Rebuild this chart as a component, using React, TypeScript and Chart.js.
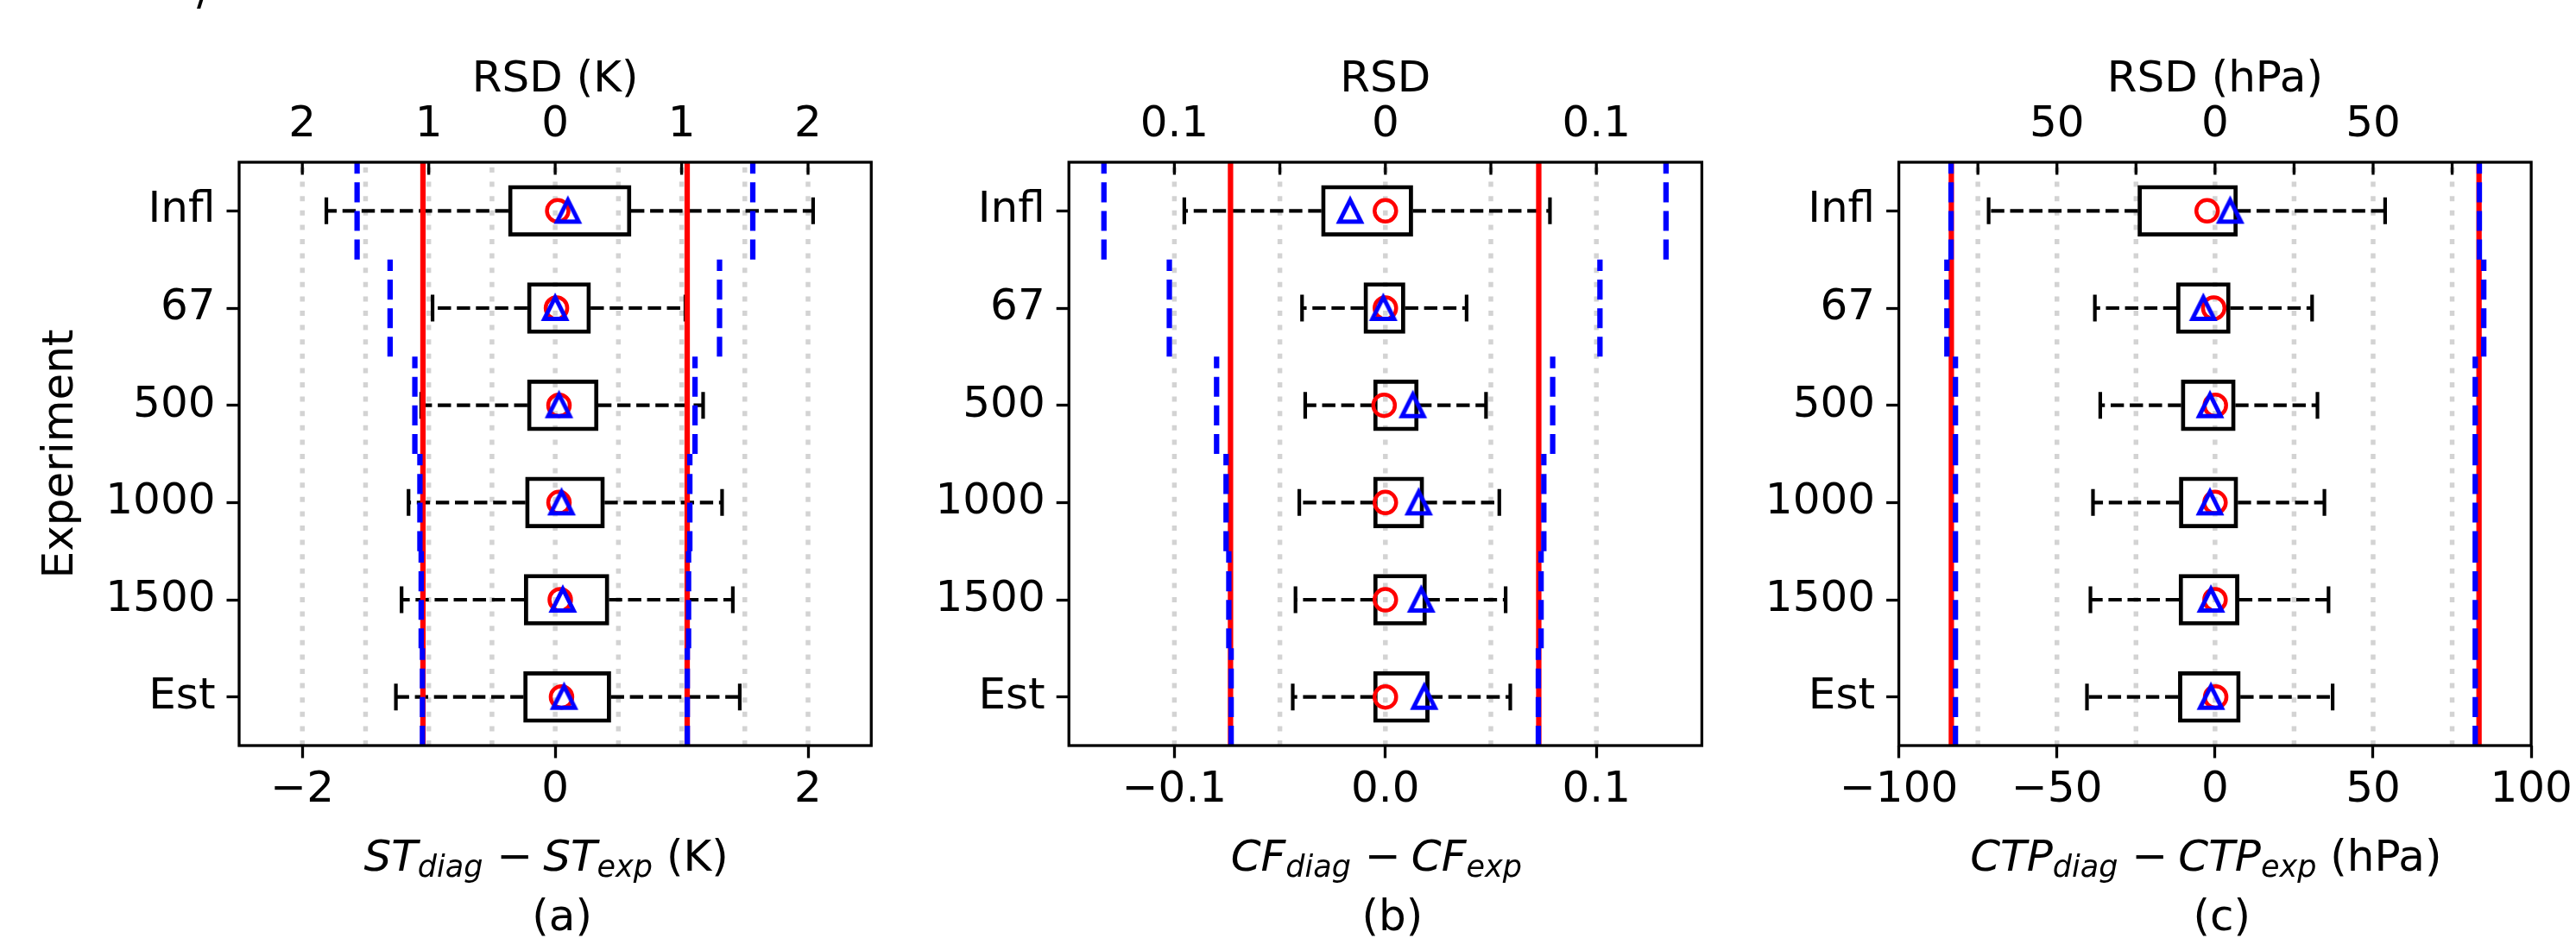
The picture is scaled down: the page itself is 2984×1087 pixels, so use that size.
import React, { useEffect, useRef } from 'react';
import { Chart, registerables } from 'chart.js';

Chart.register(...registerables);

const FONT = '"DejaVu Sans", "Liberation Sans", sans-serif';
Chart.defaults.font.family = FONT;
Chart.defaults.font.size = 50;
Chart.defaults.color = '#000';

// ---------- categories ----------
const EXPERIMENTS = ['Infl', '67', '500', '1000', '1500', 'Est'];

// ---------- (a) ST_diag - ST_exp (K) ----------
const ST_WHISKER_LOW = [-1.81, -0.97, -1.06, -1.16, -1.215, -1.26];
const ST_Q1 = [-0.37, -0.22, -0.22, -0.235, -0.245, -0.25];
const ST_Q3 = [0.6, 0.28, 0.34, 0.39, 0.425, 0.44];
const ST_WHISKER_HIGH = [2.04, 1.03, 1.17, 1.32, 1.405, 1.46];
const ST_CIRCLE = [0.02, 0.01, 0.03, 0.03, 0.04, 0.05];
const ST_TRIANGLE = [0.1, 0.0, 0.03, 0.05, 0.06, 0.07];
const ST_BLUE_LOW = [-1.567, -1.306, -1.11, -1.07, -1.06, -1.05];
const ST_BLUE_HIGH = [1.563, 1.3, 1.106, 1.065, 1.055, 1.045];
const ST_RED = [-1.046, 1.044];
const ST_RANGE = [-2.5, 2.5];
const ST_BOTTOM_TICKS = [-2, 0, 2];
const ST_BOTTOM_LABELS = ['\u22122', '0', '2'];
const ST_TOP_TICKS = [-2, -1, 0, 1, 2];
const ST_TOP_LABELS = ['2', '1', '0', '1', '2'];
const ST_GRID = [-2, -1.5, -1, -0.5, 0, 0.5, 1, 1.5, 2];

// ---------- (b) CF_diag - CF_exp ----------
const CF_WHISKER_LOW = [-0.0953, -0.0395, -0.038, -0.0408, -0.0426, -0.0439];
const CF_Q1 = [-0.0303, -0.0102, -0.0056, -0.0056, -0.0056, -0.0056];
const CF_Q3 = [0.013, 0.0093, 0.0156, 0.0182, 0.0195, 0.0208];
const CF_WHISKER_HIGH = [0.078, 0.0385, 0.0477, 0.054, 0.057, 0.0592];
const CF_CIRCLE = [0.0, 0.0, -0.0006, 0.0, 0.0, 0.0];
const CF_TRIANGLE = [-0.0167, -0.001, 0.013, 0.0158, 0.017, 0.0184];
const CF_BLUE_LOW = [-0.1334, -0.1024, -0.08, -0.0755, -0.0742, -0.0731];
const CF_BLUE_HIGH = [0.133, 0.1017, 0.0793, 0.0751, 0.0738, 0.0725];
const CF_RED = [-0.0734, 0.0727];
const CF_RANGE = [-0.15, 0.15];
const CF_BOTTOM_TICKS = [-0.1, 0, 0.1];
const CF_BOTTOM_LABELS = ['\u22120.1', '0.0', '0.1'];
const CF_TOP_TICKS = [-0.1, -0.05, 0, 0.05, 0.1];
const CF_TOP_LABELS = ['0.1', '', '0', '', '0.1'];
const CF_GRID = [-0.1, -0.05, 0, 0.05, 0.1];

// ---------- (c) CTP_diag - CTP_exp (hPa) ----------
const CTP_WHISKER_LOW = [-71.6, -38.0, -36.3, -38.6, -39.4, -40.5];
const CTP_Q1 = [-24.4, -12.2, -10.7, -11.3, -11.4, -11.6];
const CTP_Q3 = [7.1, 4.8, 6.4, 7.2, 7.6, 8.0];
const CTP_WHISKER_HIGH = [53.8, 30.7, 32.4, 34.6, 35.9, 37.2];
const CTP_CIRCLE = [-2.5, -0.4, 0.1, 0.0, 0.0, 0.2];
const CTP_TRIANGLE = [4.8, -3.7, -1.6, -1.6, -1.3, -1.3];
const CTP_BLUE_LOW = [-83.5, -84.8, -82.1, -82.1, -82.1, -82.1];
const CTP_BLUE_HIGH = [83.6, 85.0, 82.3, 82.3, 82.3, 82.3];
const CTP_RED = [-83.4, 83.5];
const CTP_RANGE = [-100, 100];
const CTP_BOTTOM_TICKS = [-100, -50, 0, 50, 100];
const CTP_BOTTOM_LABELS = ['\u2212100', '\u221250', '0', '50', '100'];
const CTP_TOP_TICKS = [-75, -50, -25, 0, 25, 50, 75];
const CTP_TOP_LABELS = ['', '50', '', '0', '', '50', ''];
const CTP_GRID = [-75, -50, -25, 0, 25, 50, 75];

type Panel = {
  key: string;
  canvasLeft: number;
  canvasWidth: number;
  plotLeft: number;
  plotRight: number;
  range: number[];
  wl: number[];
  q1: number[];
  q3: number[];
  wh: number[];
  circle: number[];
  triangle: number[];
  blueLow: number[];
  blueHigh: number[];
  red: number[];
  bottomTicks: number[];
  bottomLabels: string[];
  topTicks: number[];
  topLabels: string[];
  grid: number[];
  topTitle: string;
  varName: string;
  unit: string;
  tag: string;
  yTitle: string;
};

const PANELS: Panel[] = [
  {
    key: 'a', canvasLeft: 0, canvasWidth: 1060, plotLeft: 277, plotRight: 1009.25, range: ST_RANGE,
    wl: ST_WHISKER_LOW, q1: ST_Q1, q3: ST_Q3, wh: ST_WHISKER_HIGH, circle: ST_CIRCLE, triangle: ST_TRIANGLE,
    blueLow: ST_BLUE_LOW, blueHigh: ST_BLUE_HIGH, red: ST_RED,
    bottomTicks: ST_BOTTOM_TICKS, bottomLabels: ST_BOTTOM_LABELS, topTicks: ST_TOP_TICKS, topLabels: ST_TOP_LABELS,
    grid: ST_GRID, topTitle: 'RSD (K)', varName: 'ST', unit: '(K)', tag: '(a)', yTitle: 'Experiment',
  },
  {
    key: 'b', canvasLeft: 1060, canvasWidth: 960, plotLeft: 178.2, plotRight: 911.4, range: CF_RANGE,
    wl: CF_WHISKER_LOW, q1: CF_Q1, q3: CF_Q3, wh: CF_WHISKER_HIGH, circle: CF_CIRCLE, triangle: CF_TRIANGLE,
    blueLow: CF_BLUE_LOW, blueHigh: CF_BLUE_HIGH, red: CF_RED,
    bottomTicks: CF_BOTTOM_TICKS, bottomLabels: CF_BOTTOM_LABELS, topTicks: CF_TOP_TICKS, topLabels: CF_TOP_LABELS,
    grid: CF_GRID, topTitle: 'RSD', varName: 'CF', unit: '', tag: '(b)', yTitle: '',
  },
  {
    key: 'c', canvasLeft: 2020, canvasWidth: 964, plotLeft: 179.6, plotRight: 912.1, range: CTP_RANGE,
    wl: CTP_WHISKER_LOW, q1: CTP_Q1, q3: CTP_Q3, wh: CTP_WHISKER_HIGH, circle: CTP_CIRCLE, triangle: CTP_TRIANGLE,
    blueLow: CTP_BLUE_LOW, blueHigh: CTP_BLUE_HIGH, red: CTP_RED,
    bottomTicks: CTP_BOTTOM_TICKS, bottomLabels: CTP_BOTTOM_LABELS, topTicks: CTP_TOP_TICKS, topLabels: CTP_TOP_LABELS,
    grid: CTP_GRID, topTitle: 'RSD (hPa)', varName: 'CTP', unit: '(hPa)', tag: '(c)', yTitle: '',
  },
];

const H = 1087;
const PLOT_TOP = 188;
const PLOT_BOTTOM = 864;
const TICK_LEN = 14.5;
const SPINE_W = 3.3;

function makeTriangle(): HTMLCanvasElement {
  const c = document.createElement('canvas');
  c.width = 50;
  c.height = 50;
  const g = c.getContext('2d')!;
  const s = 25;
  g.strokeStyle = '#0000ff';
  g.lineWidth = 5;
  g.lineJoin = 'miter';
  g.beginPath();
  g.moveTo(25, 25 - s / 2);
  g.lineTo(25 - s / 2, 25 + s / 2);
  g.lineTo(25 + s / 2, 25 + s / 2);
  g.closePath();
  g.stroke();
  return c;
}

function decoPlugin(p: Panel) {
  return {
    id: 'deco_' + p.key,
    beforeDatasetsDraw(chart: any) {
      const { ctx, chartArea: a } = chart;
      const x = chart.scales.x;
      ctx.save();
      ctx.beginPath();
      ctx.rect(a.left, a.top, a.right - a.left, a.bottom - a.top);
      ctx.clip();
      ctx.strokeStyle = '#d3d3d3';
      ctx.lineWidth = 5.5;
      ctx.lineCap = 'butt';
      ctx.setLineDash([6, 10.6]);
      for (const v of p.grid) {
        const px = x.getPixelForValue(v);
        ctx.beginPath();
        ctx.moveTo(px, a.bottom);
        ctx.lineTo(px, a.top);
        ctx.stroke();
      }
      ctx.restore();
    },
    afterDatasetsDraw(chart: any) {
      const { ctx, chartArea: a } = chart;
      const x2 = chart.scales.x2;
      ctx.save();
      ctx.strokeStyle = '#000';
      ctx.lineWidth = SPINE_W;
      ctx.setLineDash([]);
      ctx.strokeRect(a.left, a.top, a.right - a.left, a.bottom - a.top);
      for (const v of p.topTicks) {
        const px = x2.getPixelForValue(v);
        ctx.beginPath();
        ctx.moveTo(px, a.top);
        ctx.lineTo(px, a.top + TICK_LEN);
        ctx.stroke();
      }
      ctx.restore();
    },
    afterDraw(chart: any) {
      const { ctx, chartArea: a } = chart;
      const cx = (a.left + a.right) / 2;
      ctx.save();
      ctx.fillStyle = '#000';
      ctx.textBaseline = 'alphabetic';
      // top title
      ctx.font = `50px ${FONT}`;
      ctx.textAlign = 'center';
      ctx.fillText(p.topTitle, cx, 106);
      // bottom title with sub-scripts
      const it50 = `italic 50px ${FONT}`;
      const it35 = `italic 35px ${FONT}`;
      const n50 = `50px ${FONT}`;
      const parts: { t: string; f: string; dy: number; gap?: number }[] = [
        { t: p.varName, f: it50, dy: 0 },
        { t: 'diag', f: it35, dy: 7 },
        { t: '', f: n50, dy: 0, gap: 16 },
        { t: '\u2212', f: n50, dy: 0 },
        { t: '', f: n50, dy: 0, gap: 12 },
        { t: p.varName, f: it50, dy: 0 },
        { t: 'exp', f: it35, dy: 7 },
      ];
      if (p.unit) parts.push({ t: ' ' + p.unit, f: n50, dy: 0 });
      let total = 0;
      const widths = parts.map((pt) => {
        if (pt.gap) return pt.gap;
        ctx.font = pt.f;
        return ctx.measureText(pt.t).width;
      });
      widths.forEach((w) => (total += w));
      let xx = cx - 10.5 - total / 2;
      ctx.textAlign = 'left';
      parts.forEach((pt, i) => {
        if (!pt.gap) {
          ctx.font = pt.f;
          ctx.fillText(pt.t, xx, 1009 + pt.dy);
        }
        xx += widths[i];
      });
      ctx.font = n50;
      ctx.textAlign = 'center';
      ctx.fillText(p.tag, cx + 8, 1078);
      if (p.yTitle) {
        ctx.save();
        ctx.translate(84, (a.top + a.bottom) / 2);
        ctx.rotate(-Math.PI / 2);
        ctx.textAlign = 'center';
        ctx.fillText(p.yTitle, 0, 0);
        ctx.restore();
        // clipped glyph remnant at the very top-left of the figure
        ctx.textAlign = 'left';
        ctx.fillText('/', 228, 5);
      }
      ctx.restore();
    },
  };
}

function buildConfig(p: Panel, tri: HTMLCanvasElement): any {
  const GAP = () => ({ x: null, y: null });
  const boxes = EXPERIMENTS.map((_, i) => ({ x: [p.q1[i], p.q3[i]], y: i + 1 }));
  const whiskers: any[] = [];
  const caps: any[] = [];
  const circles: any[] = [];
  const triangles: any[] = [];
  const blue: any[] = [];
  EXPERIMENTS.forEach((_, i) => {
    const y = i + 1;
    whiskers.push({ x: p.q1[i], y }, { x: p.wl[i], y }, GAP(), { x: p.q3[i], y }, { x: p.wh[i], y }, GAP());
    caps.push({ x: p.wl[i], y }, { x: p.wh[i], y });
    circles.push({ x: p.circle[i], y });
    triangles.push({ x: p.triangle[i], y });
    blue.push(
      { x: p.blueLow[i], y: y + 0.5 }, { x: p.blueLow[i], y: y - 0.5 }, GAP(),
      { x: p.blueHigh[i], y: y + 0.5 }, { x: p.blueHigh[i], y: y - 0.5 }, GAP(),
    );
  });
  const red: any[] = [];
  p.red.forEach((r) => red.push({ x: r, y: 6.5 }, { x: r, y: 0.5 }, GAP()));

  const [min, max] = p.range;
  const xTicks = (vals: number[]) => (s: any) => {
    s.ticks = vals.map((v) => ({ value: v }));
  };

  return {
    type: 'bar',
    data: {
      datasets: [
        { type: 'line', label: 'RSD spread', data: blue, borderColor: '#0000ff', borderWidth: 6.25, borderDash: [23.1, 10],
          pointRadius: 0, spanGaps: false, fill: false, tension: 0, order: 0 },
        { type: 'line', label: 'RSD', data: red, borderColor: '#ff0000', borderWidth: 6.25,
          pointRadius: 0, spanGaps: false, fill: false, tension: 0, order: 1 },
        { type: 'scatter', label: 'mean', data: triangles, pointStyle: tri, pointRadius: 12, order: 2 },
        { type: 'scatter', label: 'median', data: circles, pointStyle: 'circle', pointRadius: 12.5,
          pointBorderWidth: 4.5, pointBorderColor: '#ff0000', pointBackgroundColor: 'rgba(0,0,0,0)', order: 3 },
        { type: 'scatter', label: 'caps', data: caps, pointStyle: 'line', rotation: 90, pointRadius: 15.5,
          pointBorderWidth: 4.2, pointBorderColor: '#000', order: 4 },
        { type: 'line', label: 'whiskers', data: whiskers, borderColor: '#000', borderWidth: 4.2, borderDash: [15.4, 6.7],
          pointRadius: 0, spanGaps: false, fill: false, tension: 0, order: 5 },
        { type: 'bar', label: 'box', data: boxes, backgroundColor: 'rgba(0,0,0,0)', borderColor: '#000',
          borderWidth: 4.2, borderSkipped: false, barThickness: 59, order: 6 },
      ],
    },
    options: {
      indexAxis: 'y',
      responsive: false,
      maintainAspectRatio: false,
      animation: false,
      devicePixelRatio: 1,
      events: [],
      layout: { padding: { left: 0, top: 0, bottom: 0, right: p.canvasWidth - p.plotRight } },
      plugins: { legend: { display: false }, tooltip: { enabled: false }, title: { display: false } },
      scales: {
        x: {
          type: 'linear', position: 'bottom', min, max, bounds: 'data', offset: false,
          grid: { display: true, drawOnChartArea: false, drawTicks: true, tickLength: TICK_LEN, tickWidth: SPINE_W,
            tickColor: '#000', color: 'rgba(0,0,0,0)', offset: false },
          border: { display: false },
          ticks: { autoSkip: false, maxRotation: 0, minRotation: 0, padding: 8, color: '#000',
            font: { size: 50, family: FONT }, callback: (_v: number, i: number) => p.bottomLabels[i] ?? '' },
          afterBuildTicks: xTicks(p.bottomTicks),
          afterFit: (s: any) => { s.height = H - PLOT_BOTTOM; s.paddingLeft = 0; s.paddingRight = 0; },
        },
        x2: {
          type: 'linear', position: 'top', min, max, bounds: 'data', offset: false,
          grid: { display: false, drawTicks: false, drawOnChartArea: false },
          border: { display: false },
          ticks: { autoSkip: false, maxRotation: 0, minRotation: 0, padding: 12.8, color: '#000',
            font: { size: 50, family: FONT }, callback: (_v: number, i: number) => p.topLabels[i] ?? '' },
          afterBuildTicks: xTicks(p.topTicks),
          afterFit: (s: any) => { s.height = PLOT_TOP; s.paddingLeft = 0; s.paddingRight = 0; },
        },
        y: {
          type: 'linear', position: 'left', min: 0.5, max: 6.5, reverse: true, bounds: 'data', offset: false,
          grid: { display: true, drawOnChartArea: false, drawTicks: true, tickLength: TICK_LEN, tickWidth: SPINE_W,
            tickColor: '#000', color: 'rgba(0,0,0,0)', offset: false },
          border: { display: false },
          ticks: { autoSkip: false, padding: 13, color: '#000', font: { size: 50, family: FONT },
            callback: (v: number) => EXPERIMENTS[Math.round(v) - 1] ?? '' },
          afterBuildTicks: (s: any) => { s.ticks = EXPERIMENTS.map((_, i) => ({ value: i + 1 })); },
          afterFit: (s: any) => { s.width = p.plotLeft; s.paddingTop = 0; s.paddingBottom = 0; },
        },
      },
    },
    plugins: [decoPlugin(p)],
  };
}

export default function App() {
  const r0 = useRef<HTMLCanvasElement>(null);
  const r1 = useRef<HTMLCanvasElement>(null);
  const r2 = useRef<HTMLCanvasElement>(null);
  const refs = [r0, r1, r2];

  useEffect(() => {
    document.body.style.margin = '0';
    const tri = makeTriangle();
    const charts = PANELS.map((p, i) => new Chart(refs[i].current as HTMLCanvasElement, buildConfig(p, tri)));
    return () => charts.forEach((c) => c.destroy());
  }, []);

  return (
    <div style={{ position: 'relative', width: 2984, height: H, overflow: 'hidden', background: '#fff' }}>
      <style>{'body{margin:0;}'}</style>
      {PANELS.map((p, i) => (
        <canvas
          key={p.key}
          ref={refs[i]}
          width={p.canvasWidth}
          height={H}
          style={{ position: 'absolute', left: p.canvasLeft, top: 0, width: p.canvasWidth, height: H }}
        />
      ))}
    </div>
  );
}
